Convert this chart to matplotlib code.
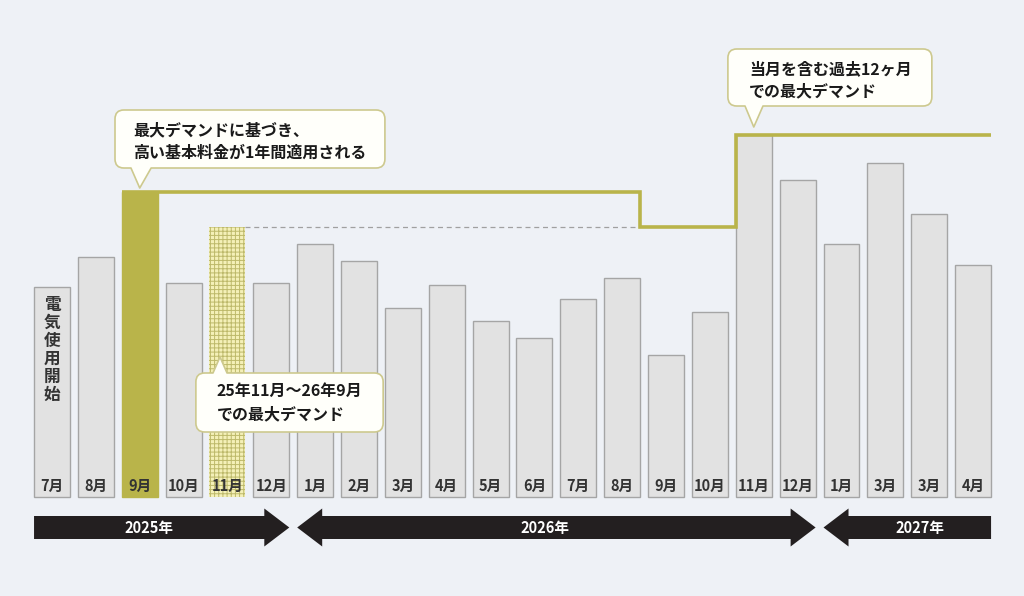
import matplotlib
matplotlib.use("Agg")
import matplotlib.pyplot as plt
from matplotlib.path import Path
from matplotlib.patches import PathPatch, Polygon

plt.rcParams["font.family"] = ["Noto Sans CJK JP", "DejaVu Sans"]
plt.rcParams["hatch.linewidth"] = 0.7

# monthly peak demand (arbitrary units)
months = ["7月", "8月", "9月", "10月", "11月", "12月", "1月", "2月", "3月", "4月", "5月",
          "6月", "7月", "8月", "9月", "10月", "11月", "12月", "1月", "3月", "3月", "4月"]
usage = [210, 240, 305, 214, 270, 214, 253, 236, 189, 212, 176,
         159, 198, 219, 142, 185, 362, 317, 253, 334, 283, 232]
# demand that sets the basic charge (max of the last 12 months)
applied = [None, None, 305, 305, 305, 305, 305, 305, 305, 305, 305,
           305, 305, 305, 270, 270, 362, 362, 362, 362, 362, 362]
years = ["2025年", "2026年", "2027年"]
year_spans = [(0, 5), (6, 17), (18, 21)]     # first / last bar of each year
year_heads = [(False, True), (True, True), (True, False)]   # (left head, right head)

PEAK1, WINDOW_PEAK, PEAK2 = 2, 4, 16
W = 0.82
BG = "#eef1f6"
OLIVE = "#b9b44a"
BAR = "#e2e2e2"
EDGE = "#a5a5a5"
DARK = "#231f20"


def bubble(ax, x0, x1, y0, y1, bx0, bx1, tip, side, rx=0.2, ry=9):
    """rounded box with a triangular pointer on the bottom or top edge"""
    M, L, C = Path.MOVETO, Path.LINETO, Path.CURVE3
    v, c = [(x0 + rx, y0)], [M]
    if side == "bottom":
        v += [(bx0, y0), tip, (bx1, y0)]; c += [L, L, L]
    v += [(x1 - rx, y0), (x1, y0), (x1, y0 + ry)]; c += [L, C, C]
    v += [(x1, y1 - ry), (x1, y1), (x1 - rx, y1)]; c += [L, C, C]
    if side == "top":
        v += [(bx1, y1), tip, (bx0, y1)]; c += [L, L, L]
    v += [(x0 + rx, y1), (x0, y1), (x0, y1 - ry)]; c += [L, C, C]
    v += [(x0, y0 + ry), (x0, y0), (x0 + rx, y0)]; c += [L, C, C]
    v.append((x0 + rx, y0)); c.append(Path.CLOSEPOLY)
    ax.add_patch(PathPatch(Path(v, c), facecolor="#fffffa", edgecolor="#cdc98e",
                           lw=1.2, zorder=6, joinstyle="round"))


def main():
    fig = plt.figure(figsize=(10.24, 5.96), dpi=100)
    fig.patch.set_facecolor(BG)
    ax = fig.add_axes([0, 0, 1, 1])
    ax.set_facecolor(BG)
    ax.set_xlim(-1.186, 22.161)
    ax.set_ylim(-99, 497)
    ax.axis("off")

    n = len(usage)
    for i in range(n):
        if i == PEAK1:
            ax.bar(i, usage[i], W, color=OLIVE, edgecolor=OLIVE, lw=1.0, zorder=2)
        elif i == WINDOW_PEAK:
            ax.bar(i, usage[i], W, color="#f4f0b8", edgecolor="#bdb96a", hatch="++++",
                   lw=0, zorder=2)
        else:
            ax.bar(i, usage[i], W, color=BAR, edgecolor=EDGE, lw=1.0, zorder=2)
        ax.text(i, 11, months[i], ha="center", va="center", fontsize=10.5,
                fontweight="bold", color="#333333", zorder=3)

    ax.text(0, 147, "\n".join("電気使用開始"), ha="center", va="center", fontsize=12,
            fontweight="bold", color="#333333", linespacing=1.0, zorder=3)

    # step line of the applied demand
    xs, ys, prev = [], [], None
    idx = [i for i, v in enumerate(applied) if v is not None]
    for i in idx:
        v = applied[i]
        if prev is None:
            xs.append(i - W / 2); ys.append(v)
        elif v != prev:
            xe = i - 1 + W / 2 if v < prev else i - W / 2
            xs += [xe, xe]; ys += [prev, v]
        prev = v
    xs.append(idx[-1] + W / 2); ys.append(prev)
    ax.plot(xs, ys, color=OLIVE, lw=2.6, solid_joinstyle="miter",
            solid_capstyle="butt", zorder=4)

    # dashed guide from the window peak to the step-down
    drop_x = [x for x, y0, y1 in zip(xs[1:], ys[:-1], ys[1:]) if y1 < y0][0]
    ax.plot([WINDOW_PEAK + W / 2, drop_x], [usage[WINDOW_PEAK]] * 2, color="#a0a0a0",
            lw=0.9, ls=(0, (4, 3)), zorder=3)

    # year arrows
    yc, hb, hh, hl = -30.5, 11.5, 19, 0.57
    for lab, (a, b), (lh, rh) in zip(years, year_spans, year_heads):
        xl, xr = a - W / 2, b + W / 2
        bl = xl + hl if lh else xl
        br = xr - hl if rh else xr
        pts = [(bl, yc + hb), (br, yc + hb)]
        if rh:
            pts += [(br, yc + hh), (xr, yc), (br, yc - hh)]
        pts += [(br, yc - hb), (bl, yc - hb)]
        if lh:
            pts += [(bl, yc - hh), (xl, yc), (bl, yc + hh)]
        ax.add_patch(Polygon(pts, closed=True, facecolor=DARK, edgecolor="none", zorder=3))
        xm = (bl + br) / 2 - (0.25 if lh and rh else 0)
        ax.text(xm, yc, lab, ha="center", va="center", color="white", fontsize=10.5,
                fontweight="bold", zorder=4)

    # callouts
    tk = dict(ha="left", va="center", fontsize=11.5, fontweight="bold",
              color="#1a1a1a", zorder=7)
    bubble(ax, 1.436, 7.59, 329, 387, 1.80, 2.26, (PEAK1, usage[PEAK1] + 4), "bottom")
    ax.text(1.85, 367, "最大デマンドに基づき、", **tk)
    ax.text(1.85, 344, "高い基本料金が1年間適用される", **tk)

    bubble(ax, 3.28, 7.55, 65, 124, 3.67, 3.99, (WINDOW_PEAK - 0.17, 140), "top")
    ax.text(3.76, 106, "25年11月～26年9月", **tk)
    ax.text(3.76, 83, "での最大デマンド", **tk)

    bubble(ax, 15.41, 20.06, 391, 448, 15.80, 16.21, (PEAK2, usage[PEAK2] + 8), "bottom")
    ax.text(15.89, 428, "当月を含む過去12ヶ月", **tk)
    ax.text(15.89, 406, "での最大デマンド", **tk)

    fig.savefig("out.png", dpi=100, facecolor=BG)


if __name__ == "__main__":
    main()
